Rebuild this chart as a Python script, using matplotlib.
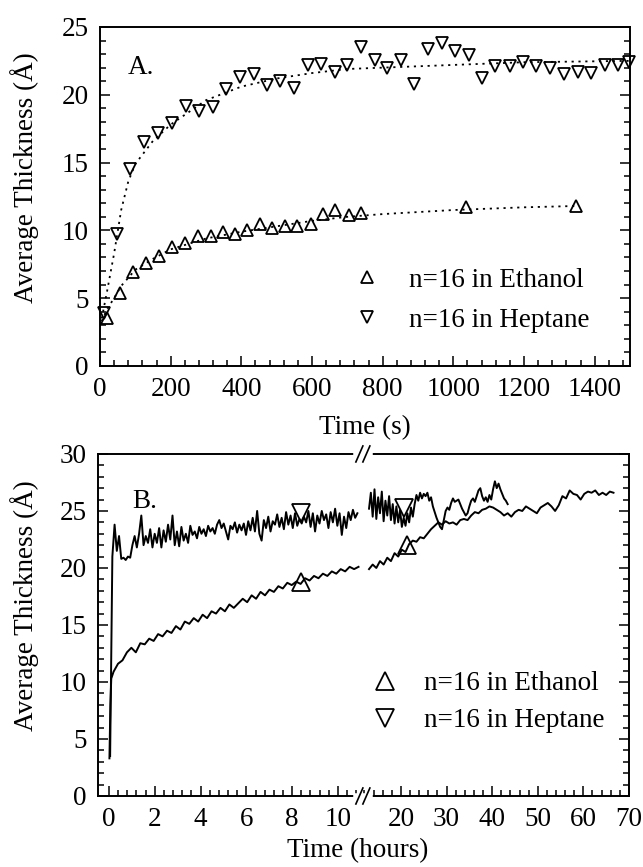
import numpy as np
import matplotlib.pyplot as plt
from matplotlib.ticker import FixedLocator, MultipleLocator

plt.rcParams['font.family'] = ['Liberation Serif', 'DejaVu Serif']
plt.rcParams['font.size'] = 19.5

# ---- panel A: thickness vs time (s) ----
eth_t = [21, 58, 93, 130, 166, 203, 240, 276, 313, 347, 382, 417, 452, 487,
         524, 558, 597, 631, 666, 704, 739, 1037, 1347]
eth_v = [3.55, 5.4, 6.9, 7.6, 8.1, 8.8, 9.1, 9.6, 9.6, 9.9, 9.7, 10.0, 10.5,
         10.2, 10.3, 10.3, 10.5, 11.2, 11.5, 11.1, 11.3, 11.7, 11.8]
hep_t = [12, 48, 85, 125, 165, 204, 243, 280, 320, 358, 396, 435, 473, 510,
         549, 588, 625, 664, 700, 740, 777, 812, 852, 890, 929, 967, 1006,
         1045, 1081, 1119, 1159, 1197, 1235, 1274, 1314, 1352, 1390, 1430,
         1467, 1497]
hep_v = [3.9, 9.7, 14.5, 16.5, 17.2, 17.9, 19.2, 18.8, 19.1, 20.4, 21.3, 21.5,
         20.7, 21.0, 20.5, 22.2, 22.3, 21.7, 22.2, 23.5, 22.6, 22.0, 22.6, 20.8,
         23.4, 23.8, 23.2, 22.9, 21.2, 22.1, 22.1, 22.4, 22.1, 22.0, 21.5, 21.7,
         21.6, 22.2, 22.2, 22.4]

# dotted fit curves
hep_fit_t = [5, 20, 40, 60, 80, 100, 150, 200, 300, 400, 500, 600, 700, 800,
             1000, 1200, 1500]
hep_fit_v = [3.5, 5.5, 8.3, 11.5, 13.6, 14.9, 16.6, 17.8, 19.6, 20.6, 21.2,
             21.6, 21.9, 22.0, 22.2, 22.4, 22.5]
eth_fit_t = [5, 20, 40, 60, 100, 150, 200, 300, 400, 500, 600, 700, 800,
             1000, 1200, 1350]
eth_fit_v = [3.3, 4.2, 5.0, 5.9, 7.1, 7.9, 8.6, 9.4, 9.9, 10.3, 10.7, 11.0,
             11.2, 11.5, 11.7, 11.8]

# ---- panel B: thickness vs time (hours), broken axis ----
hepB_left_v = [3.5, 21.0, 23.8, 21.5, 22.8, 20.8, 20.9, 20.7, 21.0, 20.9, 22.0,
               22.8, 21.8, 23.0, 24.6, 22.0, 22.8, 22.2, 23.4, 21.8, 23.0, 22.2,
               23.5, 21.8, 23.3, 22.3, 23.8, 22.5, 24.6, 22.0, 23.2, 21.9, 23.6,
               22.4, 23.0, 22.2, 23.7, 22.9, 23.2, 22.6, 23.6, 23.0, 23.4, 22.8,
               23.7, 23.2, 23.5, 23.0, 23.8, 24.2, 23.5, 23.9, 23.2, 22.5, 23.7,
               23.4, 24.0, 23.1, 23.8, 23.3, 23.9, 22.9, 24.1, 23.3, 24.4, 23.2,
               25.0, 23.0, 22.4, 24.2, 23.5, 24.5, 23.2, 24.1, 23.8, 24.7, 23.6,
               24.4, 23.4, 24.9, 23.8, 24.6, 23.5, 24.8, 23.7, 24.3, 23.9, 24.5,
               24.0, 25.0, 23.6, 24.8, 23.2, 24.6, 23.9, 25.0, 24.2, 24.7, 23.5,
               24.9, 24.0, 25.2, 23.7, 24.8, 22.9, 24.5, 23.5, 24.9, 24.2, 25.1,
               24.4, 24.8]
hepB_left_h = np.linspace(0.05, 10.85, len(hepB_left_v))

hepB_right_v = [25.2, 26.6, 24.5, 26.9, 24.3, 26.2, 24.8, 26.7, 24.1, 25.9, 24.6,
                26.3, 24.2, 25.6, 23.9, 25.4, 24.0, 25.1, 23.6, 24.4, 23.7, 24.8,
                24.0, 25.3, 24.5, 25.6, 26.4, 25.9, 26.6, 26.1, 26.5, 26.3, 26.6,
                25.9, 26.2, 25.4, 24.9, 24.4, 24.0, 23.6, 23.4, 24.2, 25.0, 25.3,
                25.1, 25.7, 26.1, 25.8, 25.9, 26.0, 25.6, 25.2, 24.9, 24.6, 24.8,
                25.4, 25.9, 26.1, 25.8, 26.3, 26.8, 27.0, 26.3, 25.9, 26.2, 25.8,
                26.4, 26.0, 26.9, 27.6, 27.0, 27.4, 26.9, 26.5, 26.1, 25.9, 25.6]
hepB_right_h = np.linspace(13.0, 43.4, len(hepB_right_v))

ethB_start_h = [0.02, 0.06, 0.10]
ethB_start_v = [3.3, 8.0, 10.3]
ethB_left_v = [10.9, 11.6, 11.9, 12.6, 13.0, 12.6, 13.4, 13.3, 13.8, 13.6, 14.2,
               14.0, 14.5, 14.3, 14.9, 14.6, 15.3, 15.1, 15.6, 15.3, 15.9, 15.6,
               16.2, 16.0, 16.5, 16.2, 16.8, 16.5, 16.9, 17.3, 17.0, 17.6, 17.3,
               17.9, 17.6, 18.1, 17.9, 18.4, 18.2, 18.7, 18.5, 18.8, 18.6, 19.1,
               18.9, 19.3, 19.1, 19.5, 19.3, 19.7, 19.5, 19.9, 19.7, 20.1, 19.9,
               20.1]
ethB_left_h = np.linspace(0.2, 10.9, len(ethB_left_v))

ethB_right_v = [19.9, 20.3, 20.0, 20.6, 20.3, 20.9, 20.6, 21.3, 21.0, 21.6, 21.4,
                22.1, 22.4, 22.3, 22.7, 22.6, 23.0, 23.4, 23.7, 24.0, 23.8, 24.1,
                23.9, 24.0, 23.8, 24.2, 24.3, 24.2, 24.6, 24.9, 24.8, 25.1, 25.2,
                25.4, 25.3, 25.1, 24.9, 24.6, 24.8, 24.5, 24.9, 25.1, 25.0, 25.4,
                25.2, 25.0, 24.8, 25.3, 25.5, 25.7, 25.4, 25.0, 25.5, 26.3, 26.1,
                26.8, 26.5, 26.4, 26.0, 26.5, 26.7, 26.6, 26.8, 26.4, 26.6, 26.4,
                26.7, 26.6]
ethB_right_h = np.linspace(13.0, 66.6, len(ethB_right_v))

# marker labels sitting on the curves
ethB_mark_h = [8.4, 21.4]
ethB_mark_v = [18.8, 22.0]
hepB_mark_h = [8.4, 20.7]
hepB_mark_v = [24.8, 25.3]

labels = ['n=16 in Ethanol', 'n=16 in Heptane']


def style(ax):
    ax.tick_params(which='both', direction='in', top=False, right=True,
                   width=1.1, pad=8)
    ax.tick_params(which='major', length=7.5)
    ax.tick_params(which='minor', length=4)
    for s in ax.spines.values():
        s.set_linewidth(1.4)


fig = plt.figure(figsize=(6.43, 8.67), dpi=100)
axA = fig.add_axes([0.1555, 0.5779, 0.8243, 0.391])
axB = fig.add_axes([0.1524, 0.0819, 0.8258, 0.3945])

# ---- A ----
dots = (0, (1.2, 2.6))
axA.plot(hep_fit_t, hep_fit_v, color='k', lw=1.3, ls=dots)
axA.plot(eth_fit_t, eth_fit_v, color='k', lw=1.3, ls=dots)
hA1, = axA.plot(eth_t, eth_v, ls='none', marker='^', ms=8.5, mfc='none',
                mec='k', mew=1.3, clip_on=False)
hA2, = axA.plot(hep_t, hep_v, ls='none', marker='v', ms=8.5, mfc='none',
                mec='k', mew=1.3, clip_on=False)
axA.set_xlim(0, 1500)
axA.set_ylim(0, 25)
axA.xaxis.set_major_locator(MultipleLocator(200))
axA.xaxis.set_minor_locator(MultipleLocator(40))
axA.yaxis.set_major_locator(MultipleLocator(5))
axA.yaxis.set_minor_locator(MultipleLocator(1))
style(axA)
axA.set_xlabel('Time (s)')
axA.set_ylabel('Average Thickness (Å)')
axA.xaxis.set_label_coords(0.5, -0.145)
axA.yaxis.set_label_coords(-0.115, 0.557)
axA.text(0.053, 0.879, 'A.', transform=axA.transAxes, va='center', ha='left')
axA.legend([hA1, hA2], labels, loc='upper left', bbox_to_anchor=(0.479, 0.29),
           frameon=False, handlelength=1.0, handletextpad=1.05,
           labelspacing=0.55, borderpad=0, borderaxespad=0)

# ---- B ----
B0, R = 10.95, 0.1992


def fwd(h):
    h = np.asarray(h, float)
    return np.where(h <= B0, h, B0 + (h - B0) * R)


def inv(u):
    u = np.asarray(u, float)
    return np.where(u <= B0, u, B0 + (u - B0) / R)


axB.set_xscale('function', functions=(fwd, inv))
axB.plot(hepB_left_h, hepB_left_v, color='k', lw=1.4)
axB.plot(hepB_right_h, hepB_right_v, color='k', lw=1.4)
axB.plot(ethB_start_h + list(ethB_left_h), ethB_start_v + ethB_left_v,
         color='k', lw=1.4)
axB.plot(ethB_right_h, ethB_right_v, color='k', lw=1.4)
hB1, = axB.plot(ethB_mark_h, ethB_mark_v, ls='none', marker='^', ms=13,
                mfc='none', mec='k', mew=1.3)
hB2, = axB.plot(hepB_mark_h, hepB_mark_v, ls='none', marker='v', ms=13,
                mfc='none', mec='k', mew=1.3)
axB.set_xlim(-0.48, 70)
axB.set_ylim(0, 30)
major = [0, 2, 4, 6, 8, 10, 20, 30, 40, 50, 60, 70]
minor = [m for m in list(np.round(np.arange(0, 10.9, 0.4), 1)) +
         list(range(12, 71, 2)) if m not in major]
axB.xaxis.set_major_locator(FixedLocator(major))
axB.xaxis.set_minor_locator(FixedLocator(minor))
axB.set_xticklabels([str(m) for m in major])
axB.yaxis.set_major_locator(MultipleLocator(5))
axB.yaxis.set_minor_locator(MultipleLocator(1))
style(axB)
axB.set_xlabel('Time (hours)')
axB.set_ylabel('Average Thickness (Å)')
axB.xaxis.set_label_coords(0.49, -0.122)
axB.yaxis.set_label_coords(-0.111, 0.558)
axB.text(0.064, 0.86, 'B.', transform=axB.transAxes, va='center', ha='left')
axB.legend([hB1, hB2], labels, loc='upper left', bbox_to_anchor=(0.515, 0.365),
           frameon=False, handlelength=1.0, handletextpad=0.95,
           labelspacing=0.45, borderpad=0, borderaxespad=0)

# break marks "//" on the top and bottom spines
u0, u1 = -0.48, float(fwd(70))
xb = (11.09 - u0) / (u1 - u0)
wpx, hpx = 0.8258 * 643, 0.3945 * 867
for yb in (0, 1):
    axB.plot([xb - 7 / wpx, xb + 7 / wpx], [yb, yb], color='white', lw=4,
             transform=axB.transAxes, clip_on=False, zorder=5)
    for off in (-3.5, 3.5):
        axB.plot([xb + (off - 3.5) / wpx, xb + (off + 3.5) / wpx],
                 [yb - 8 / hpx, yb + 8 / hpx], color='k', lw=1.2,
                 transform=axB.transAxes, clip_on=False, zorder=6)

fig.savefig('out.png', dpi=100)
